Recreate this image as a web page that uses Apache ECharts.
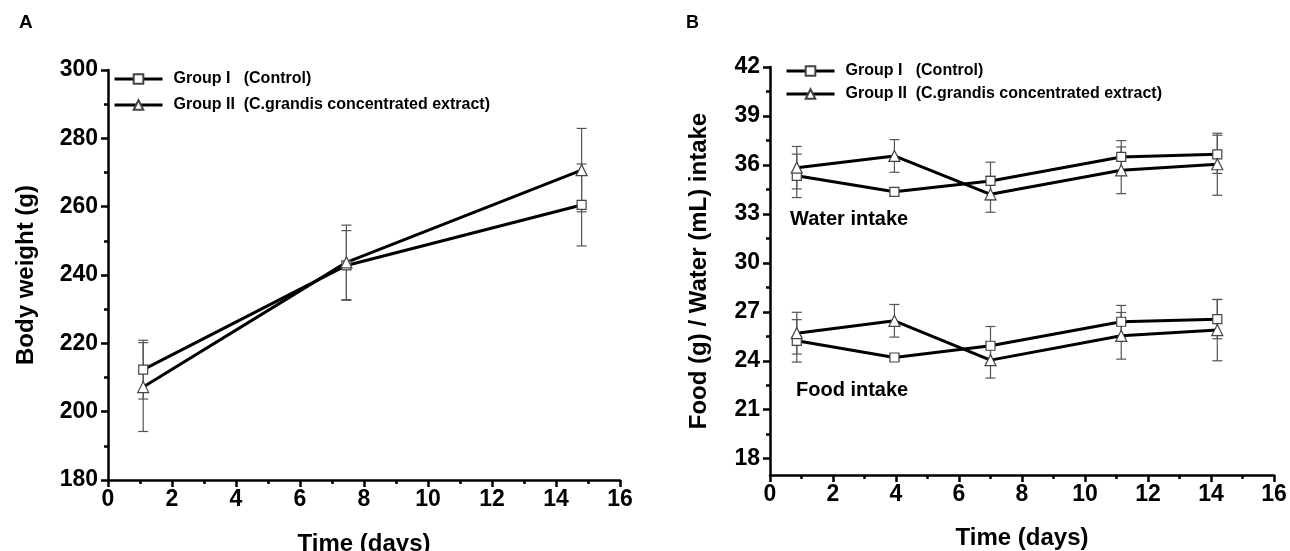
<!DOCTYPE html>
<html>
<head>
<meta charset="utf-8">
<title>Body weight, food and water intake</title>
<script src="https://cdn.jsdelivr.net/npm/echarts@6/dist/echarts.min.js"></script>
<style>
    html, body { margin: 0; padding: 0; background: #fff; }
    #main { width: 1290px; height: 551px; }
</style>
</head>
<body>
<div id="main"></div>
<script>
    // panel A: body weight
    var daysA = [1.1, 7.45, 14.8];
    var weightG1 = [212.3, 242.8, 260.5];
    var weightG1Err = [8.6, 10.2, 12.0];
    var weightG2 = [207.2, 243.7, 270.7];
    var weightG2Err = [13.0, 10.9, 12.2];

    // panel B: water / food intake
    var daysB = [0.85, 3.95, 7.0, 11.15, 14.2];
    var waterG1 = [35.33, 34.35, 35.02, 36.49, 36.65];
    var waterG1Err = [1.33, 0.25, 1.15, 1.0, 1.17];
    var waterG2 = [35.83, 36.55, 34.2, 35.67, 36.04];
    var waterG2Err = [1.3, 1.0, 1.1, 1.43, 1.9];
    var foodG1 = [25.22, 24.2, 24.92, 26.39, 26.55];
    var foodG1Err = [1.3, 0.2, 1.18, 1.0, 1.2];
    var foodG2 = [25.69, 26.45, 24.04, 25.53, 25.88];
    var foodG2Err = [1.28, 1.0, 1.1, 1.43, 1.88];

    var yTicksB = [18, 21, 24, 27, 30, 33, 36, 39, 42];
    var yMinorB = [19.5, 22.5, 25.5, 28.5, 31.5, 34.5, 37.5, 40.5];

    var nameG1 = 'Group I   (Control)';
    var nameG2 = 'Group II  (C.grandis concentrated extract)';

    var FONT = "'Liberation Sans', Arial, sans-serif";

    function pairs(xs, ys) {
        return xs.map(function (x, i) { return [x, ys[i]]; });
    }
    function bars(xs, ys, err) {
        return xs.map(function (x, i) { return [x, ys[i] - err[i], ys[i] + err[i]]; });
    }

    function renderErr(params, api) {
        var x = api.value(0);
        var lo = api.coord([x, api.value(1)]);
        var hi = api.coord([x, api.value(2)]);
        var w = 5;
        var st = {stroke: '#555', lineWidth: 1.2};
        return {
            type: 'group',
            children: [
                {type: 'line', shape: {x1: lo[0], y1: lo[1], x2: hi[0], y2: hi[1]}, style: st},
                {type: 'line', shape: {x1: lo[0] - w, y1: lo[1], x2: lo[0] + w, y2: lo[1]}, style: st},
                {type: 'line', shape: {x1: hi[0] - w, y1: hi[1], x2: hi[0] + w, y2: hi[1]}, style: st}
            ]
        };
    }

    function lineSeries(name, symbol, size, data, xi, yi) {
        return {
            name: name,
            type: 'line',
            xAxisIndex: xi,
            yAxisIndex: yi,
            data: data,
            symbol: symbol,
            symbolSize: size,
            z: 3,
            lineStyle: {color: '#000', width: 3},
            itemStyle: {color: '#fff', borderColor: '#444', borderWidth: 1.2},
            emphasis: {disabled: true}
        };
    }

    function errSeries(data, xi, yi) {
        return {
            type: 'custom',
            xAxisIndex: xi,
            yAxisIndex: yi,
            renderItem: renderErr,
            encode: {x: 0, y: [1, 2]},
            data: data,
            z: 1,
            silent: true
        };
    }

    var axisLine = {lineStyle: {color: '#000', width: 2.5}};
    var axisTick = {length: 7, lineStyle: {color: '#000', width: 2.5}};
    var minorTick = {show: true, splitNumber: 2, length: 4, lineStyle: {color: '#000', width: 2.5}};
    var label = {color: '#000', fontSize: 23, fontWeight: 'bold', fontFamily: FONT};
    var nameStyle = {color: '#000', fontSize: 24, fontWeight: 'bold', fontFamily: FONT};
    var legendText = {color: '#000', fontSize: 16, fontWeight: 'bold', fontFamily: FONT, padding: [0, 0, 0, 6]};

    var myChart = echarts.init(document.getElementById('main'));

    var option = {
        backgroundColor: '#fff',
        animation: false,
        grid: [
            {left: 108, top: 70, width: 512, height: 410, outerBoundsMode: 'none'},
            {left: 770, top: 67, width: 504, height: 408, outerBoundsMode: 'none'}
        ],
        legend: [
            {
                orient: 'vertical', left: 113, top: 71, padding: 0,
                itemWidth: 48, itemHeight: 12, itemGap: 10,
                lineStyle: {width: 3, color: '#000'},
                textStyle: legendText, data: [nameG1, nameG2], selectedMode: false
            },
            {
                orient: 'vertical', left: 785, top: 63, padding: 0,
                itemWidth: 48, itemHeight: 12, itemGap: 7,
                lineStyle: {width: 3, color: '#000'},
                textStyle: legendText, data: [nameG1, nameG2], selectedMode: false
            }
        ],
        xAxis: [
            {
                type: 'value', gridIndex: 0, min: 0, max: 16, interval: 2,
                name: 'Time (days)', nameLocation: 'middle', nameGap: 52, nameTextStyle: nameStyle,
                axisLine: axisLine, axisTick: axisTick, minorTick: minorTick,
                axisLabel: Object.assign({margin: 8}, label),
                splitLine: {show: false}
            },
            {
                type: 'value', gridIndex: 1, min: 0, max: 16, interval: 2,
                name: 'Time (days)', nameLocation: 'middle', nameGap: 51, nameTextStyle: nameStyle,
                axisLine: axisLine, axisTick: axisTick, minorTick: minorTick,
                axisLabel: Object.assign({margin: 8}, label),
                splitLine: {show: false}
            }
        ],
        yAxis: [
            {
                type: 'value', gridIndex: 0, min: 180, max: 300, interval: 20,
                name: 'Body weight (g)', nameLocation: 'middle', nameGap: 70, nameTextStyle: nameStyle,
                axisLine: axisLine, axisTick: axisTick, minorTick: minorTick,
                axisLabel: Object.assign({margin: 10}, label),
                splitLine: {show: false}
            },
            {
                type: 'value', gridIndex: 1, min: 17, max: 42, position: 'left',
                name: 'Food (g) / Water (mL) intake', nameLocation: 'middle', nameGap: 59, nameTextStyle: nameStyle,
                axisLine: axisLine,
                axisTick: Object.assign({customValues: yTicksB}, axisTick),
                axisLabel: Object.assign({margin: 10, customValues: yTicksB}, label),
                splitLine: {show: false}
            },
            {
                type: 'value', gridIndex: 1, min: 17, max: 42, position: 'left', offset: 0,
                axisLine: {show: false},
                axisTick: {customValues: yMinorB, length: 4, lineStyle: {color: '#000', width: 2.5}},
                axisLabel: {show: false},
                splitLine: {show: false}
            }
        ],
        graphic: [
            {type: 'text', left: 19, top: 13, style: {text: 'A', fontSize: 19, fontWeight: 'bold', fontFamily: FONT, fill: '#000'}},
            {type: 'text', left: 686, top: 14, style: {text: 'B', fontSize: 18, fontWeight: 'bold', fontFamily: FONT, fill: '#000'}},
            {type: 'text', left: 790, top: 209, style: {text: 'Water intake', fontSize: 20, fontWeight: 'bold', fontFamily: FONT, fill: '#000'}},
            {type: 'text', left: 796, top: 380, style: {text: 'Food intake', fontSize: 20, fontWeight: 'bold', fontFamily: FONT, fill: '#000'}}
        ],
        series: [
            errSeries(bars(daysA, weightG1, weightG1Err), 0, 0),
            errSeries(bars(daysA, weightG2, weightG2Err), 0, 0),
            lineSeries(nameG1, 'rect', 9, pairs(daysA, weightG1), 0, 0),
            lineSeries(nameG2, 'triangle', 11, pairs(daysA, weightG2), 0, 0),

            errSeries(bars(daysB, waterG1, waterG1Err), 1, 1),
            errSeries(bars(daysB, waterG2, waterG2Err), 1, 1),
            errSeries(bars(daysB, foodG1, foodG1Err), 1, 1),
            errSeries(bars(daysB, foodG2, foodG2Err), 1, 1),
            lineSeries(nameG1, 'rect', 9, pairs(daysB, waterG1), 1, 1),
            lineSeries(nameG2, 'triangle', 11, pairs(daysB, waterG2), 1, 1),
            lineSeries(nameG1, 'rect', 9, pairs(daysB, foodG1), 1, 1),
            lineSeries(nameG2, 'triangle', 11, pairs(daysB, foodG2), 1, 1)
        ]
    };

    myChart.setOption(option);
</script>
</body>
</html>
